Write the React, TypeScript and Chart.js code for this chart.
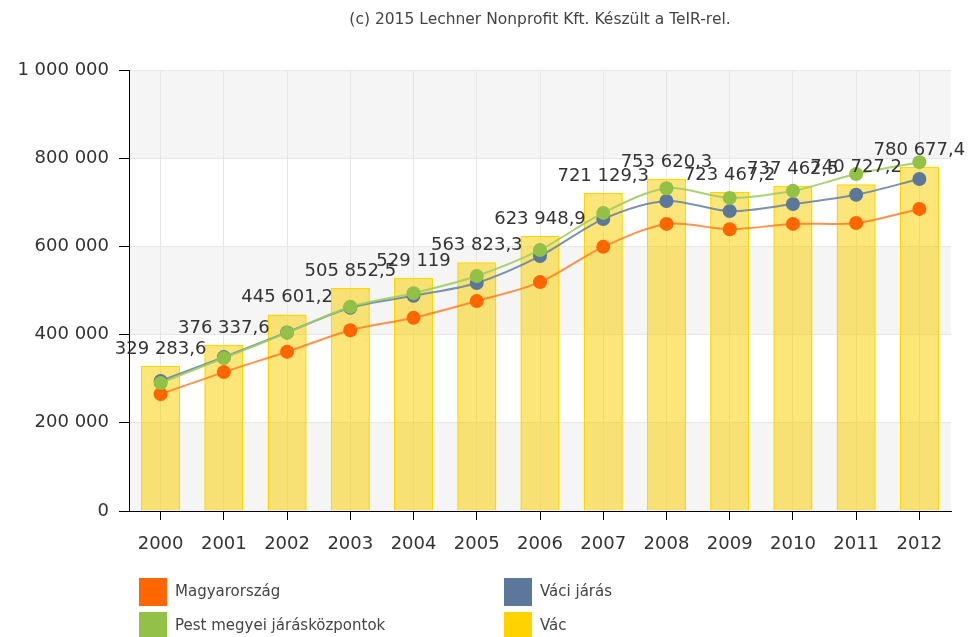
import React, { useEffect, useRef } from "react";
import { Chart, registerables } from "chart.js";

Chart.register(...registerables);

const years = ["2000", "2001", "2002", "2003", "2004", "2005", "2006", "2007", "2008", "2009", "2010", "2011", "2012"];
const vac = [329283.6, 376337.6, 445601.2, 505852.5, 529119, 563823.3, 623948.9, 721129.3, 753620.3, 723467.2, 737462.5, 740727.2, 780677.4];
const magyarorszag = [265000, 315000, 361000, 410000, 438000, 476000, 519000, 599000, 651000, 639000, 651000, 653000, 685000];
const vaciJaras = [295000, 349000, 405000, 461000, 488000, 517000, 578000, 662000, 703000, 680000, 696000, 717000, 753000];
const pestJarasKozpontok = [290000, 347000, 404000, 463000, 494000, 533000, 592000, 676000, 732000, 710000, 726000, 764000, 791000];
const yTicks = [0, 200000, 400000, 600000, 800000, 1000000];
const titleText = "(c) 2015 Lechner Nonprofit Kft. Készült a TeIR-rel.";

const FONT = "'DejaVu Sans', Verdana, sans-serif";

function fmt(v: number): string {
  const neg = v < 0;
  const abs = Math.abs(v);
  const intPart = Math.floor(abs);
  const dec = Math.round((abs - intPart) * 10);
  const s = String(intPart).replace(/\B(?=(\d{3})+(?!\d))/g, " ");
  return (neg ? "-" : "") + s + (dec ? "," + dec : "");
}

const bandsPlugin = {
  id: "bands",
  beforeDraw(chart: any) {
    const { ctx, chartArea, scales } = chart;
    const y = scales.y;
    ctx.save();
    ctx.fillStyle = "#f5f5f5";
    for (let i = 0; i + 1 < yTicks.length; i++) {
      const top = yTicks[yTicks.length - 1 - i];
      const bot = yTicks[yTicks.length - 2 - i];
      if (i % 2 === 0) {
        const y1 = y.getPixelForValue(top);
        const y2 = y.getPixelForValue(bot);
        ctx.fillRect(chartArea.left, y1, chartArea.right - chartArea.left, y2 - y1);
      }
    }
    ctx.restore();
  },
};

const labelsPlugin = {
  id: "barLabels",
  afterDatasetsDraw(chart: any) {
    const { ctx } = chart;
    const idx = chart.data.datasets.findIndex((d: any) => d.type === "bar");
    if (idx < 0) return;
    const meta = chart.getDatasetMeta(idx);
    const data = chart.data.datasets[idx].data;
    ctx.save();
    ctx.font = "18px " + FONT;
    ctx.fillStyle = "#333333";
    ctx.textAlign = "center";
    ctx.textBaseline = "alphabetic";
    meta.data.forEach((el: any, i: number) => {
      ctx.fillText(fmt(data[i]), el.x, el.y - 12);
    });
    ctx.restore();
  },
};

const titleLegendPlugin = {
  id: "titleLegend",
  afterDraw(chart: any) {
    const { ctx, chartArea } = chart;
    ctx.save();
    ctx.font = "15.5px " + FONT;
    ctx.fillStyle = "#444444";
    ctx.textAlign = "center";
    ctx.textBaseline = "middle";
    ctx.fillText(titleText, (chartArea.left + chartArea.right) / 2, 20);

    const items = [{ ds: 1 }, { ds: 2 }, { ds: 3 }, { ds: 0 }];
    const cols = [139, 504];
    const rows = [578, 612];
    ctx.font = "15px " + FONT;
    ctx.textAlign = "left";
    items.forEach((it, k) => {
      const d = chart.data.datasets[it.ds];
      const x = cols[k % 2];
      const yy = rows[Math.floor(k / 2)];
      ctx.fillStyle = d.legendColor;
      ctx.fillRect(x, yy, 28, 28);
      ctx.fillStyle = "#444444";
      ctx.fillText(d.label, x + 36, yy + 14);
    });
    ctx.restore();
  },
};

export default function App() {
  const ref = useRef<HTMLCanvasElement | null>(null);
  useEffect(() => {
    if (!ref.current) return;
    const lineDs = (label: string, data: number[], color: string, lineColor: string, order: number) => ({
      type: "line" as const,
      label,
      data,
      legendColor: color,
      borderColor: lineColor,
      backgroundColor: color,
      pointBackgroundColor: color,
      pointBorderColor: color,
      pointBorderWidth: 0,
      pointRadius: 7,
      borderWidth: 2,
      tension: 0.3,
      fill: false,
      order,
    });
    const chart = new Chart(ref.current, {
      type: "bar",
      data: {
        labels: years,
        datasets: [
          {
            type: "bar",
            label: "Vác",
            data: vac,
            legendColor: "#FFD200",
            backgroundColor: "rgba(250,208,0,0.52)",
            borderColor: "#FFD700",
            borderWidth: 1.5,
            barPercentage: 0.62,
            categoryPercentage: 1,
            order: 4,
          } as any,
          lineDs("Magyarország", magyarorszag, "#FF6600", "rgba(255,120,30,0.8)", 3),
          lineDs("Váci járás", vaciJaras, "#5B7799", "rgba(100,128,160,0.85)", 2),
          lineDs("Pest megyei járásközpontok", pestJarasKozpontok, "#93C047", "rgba(160,205,100,0.9)", 1),
        ],
      },
      options: {
        responsive: false,
        animation: false,
        layout: { padding: { top: 70, right: 19, bottom: 70, left: 0 } },
        plugins: {
          legend: { display: false },
          title: { display: false },
          tooltip: { enabled: false },
        },
        scales: {
          x: {
            grid: {
              offset: false,
              color: "#e6e6e6",
              tickColor: "#000000",
              tickLength: 9,
            },
            border: { color: "#000000", width: 1 },
            ticks: { color: "#333333", font: { family: FONT, size: 18 }, padding: 14, autoSkip: false, maxRotation: 0 },
            afterFit: (s: any) => {
              s.height = 56;
            },
          },
          y: {
            min: 0,
            max: 1000000,
            afterBuildTicks: (s: any) => {
              s.ticks = yTicks.map((v) => ({ value: v }));
            },
            grid: {
              color: "#e6e6e6",
              tickColor: "#000000",
              tickLength: 10,
            },
            border: { color: "#000000", width: 1 },
            ticks: {
              color: "#333333",
              font: { family: FONT, size: 18 },
              padding: 10,
              callback: (v: any) => fmt(Number(v)),
            },
            afterFit: (s: any) => {
              s.width = 129;
            },
          },
        },
      } as any,
      plugins: [bandsPlugin, labelsPlugin, titleLegendPlugin],
    });
    return () => chart.destroy();
  }, []);
  return (
    <div style={{ position: "fixed", left: 0, top: 0, width: 970, height: 637, background: "#fff" }}>
      <canvas ref={ref} width={970} height={637} style={{ width: 970, height: 637, display: "block" }} />
    </div>
  );
}
